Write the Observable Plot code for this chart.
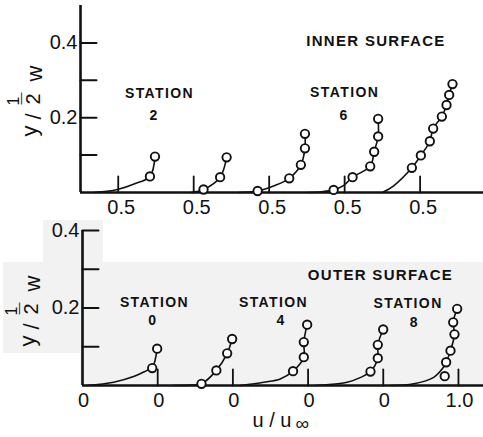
<!DOCTYPE html>
<html><head><meta charset="utf-8">
<script src="https://cdn.jsdelivr.net/npm/d3@7"></script>
<script src="https://cdn.jsdelivr.net/npm/@observablehq/plot@0.6"></script>
<style>
html,body{margin:0;padding:0;background:#fff;}
#wrap{position:relative;width:483px;height:437px;overflow:hidden;}
.scan{position:absolute;background:#f2f2f2;}
#wrap svg{position:relative;display:block;}
</style></head><body>
<div id="wrap">
<div class="scan" style="left:43px;top:220px;width:60px;height:42px"></div>
<div class="scan" style="left:3px;top:262px;width:480px;height:91px"></div>
<div class="scan" style="left:80px;top:353px;width:403px;height:32px"></div>
</div>
<script>
// ---------- data (u/u∞ , y/(w/2)) per profile; profiles are offset by 1 unit each ----------
const innerProfiles = [0, 1, 2, 3, 4];
const innerCurves = [
  [[0.18,0],[0.35,0.003],[0.49,0.008],[0.71,0.023],[0.92,0.043],[0.987,0.096]],
  [[0.47,0],[0.63,0.008],[0.85,0.041],[0.936,0.094]],
  [[0.10,0],[0.347,0.004],[0.567,0.018],[0.766,0.038],[0.92,0.074],[0.974,0.118],[0.974,0.157]],
  [[0.02,0],[0.2,0.002],[0.354,0.007],[0.49,0.019],[0.605,0.041],[0.839,0.070],[0.891,0.109],[0.944,0.150],[0.944,0.197]],
  [[0.0,0],[0.15,0.018],[0.391,0.066],[0.51,0.099],[0.629,0.137],[0.673,0.171],[0.788,0.203],[0.85,0.234],[0.885,0.261],[0.929,0.29]]
];
const innerPoints = [
  [[0.92,0.043],[0.987,0.096]],
  [[0.63,0.008],[0.85,0.041],[0.936,0.094]],
  [[0.347,0.004],[0.766,0.038],[0.92,0.074],[0.974,0.118],[0.974,0.157]],
  [[0.354,0.007],[0.605,0.041],[0.839,0.070],[0.891,0.109],[0.944,0.150],[0.944,0.197]],
  [[0.391,0.066],[0.51,0.099],[0.629,0.137],[0.673,0.171],[0.788,0.203],[0.85,0.234],[0.885,0.261],[0.929,0.29]]
];
const outerProfiles = [0, 1, 2, 3, 4];
const outerCurves = [
  [[0.05,0],[0.416,0.0085],[0.68,0.023],[0.86,0.039],[0.927,0.045],[0.993,0.095]],
  [[0.2,0],[0.42,0.001],[0.582,0.0044],[0.78,0.039],[0.924,0.083],[0.99,0.12]],
  [[0.1,0],[0.41,0.0085],[0.63,0.017],[0.80,0.037],[0.943,0.073],[0.943,0.112],[0.988,0.157]],
  [[0.1,0],[0.52,0.0085],[0.70,0.021],[0.83,0.036],[0.927,0.0705],[0.927,0.105],[0.999,0.1445]],
  [[0.1,0],[0.406,0.0044],[0.67,0.021],[0.80,0.047],[0.836,0.060],[0.894,0.090],[0.947,0.132],[0.93,0.163],[0.983,0.198]]
];
const outerPoints = [
  [[0.927,0.045],[0.993,0.095]],
  [[0.582,0.0044],[0.78,0.039],[0.924,0.083],[0.99,0.12]],
  [[0.80,0.037],[0.943,0.073],[0.943,0.112],[0.988,0.157]],
  [[0.83,0.036],[0.927,0.0705],[0.927,0.105],[0.999,0.1445]],
  [[0.817,0.024],[0.836,0.060],[0.894,0.090],[0.947,0.132],[0.93,0.163],[0.983,0.198]]
];
// ticks
const innerXTicks = [0.5, 1.5, 2.5, 3.5, 4.5];
const innerXTickLabels = ["0.5", "0.5", "0.5", "0.5", "0.5"];
const innerYTicks = [0.1, 0.2, 0.3, 0.4];
const innerYLabelTicks = [0.2, 0.4];
const outerXLabelTicks = [0, 1, 2, 3, 4, 5];
const outerXTickLabels = ["0", "0", "0", "0", "0", "1.0"];
const outerXTicks = [1, 2, 3, 4, 5];
const outerYTicks = [0.1, 0.2, 0.3, 0.4];
const outerYLabelTicks = [0.2, 0.4];
// text
const innerTitle = "INNER SURFACE";
const outerTitle = "OUTER SURFACE";
const stationWord = "STATION";
const innerStations = ["2", "6"];
const outerStations = ["0", "4", "8"];
const yTitleGlyphs = ["y", "/", "1", "2", "w"];
const xTitleParts = ["u / u", "∞"];

// ---------- build tables ----------
const rows = (profiles, sets) => sets.flatMap((pts, i) => pts.map(([u, y]) => ({profile: i, x: profiles[i] + u, y})));
const innerCurveRows = rows(innerProfiles, innerCurves);
const innerPointRows = rows(innerProfiles, innerPoints);
const outerCurveRows = rows(outerProfiles, outerCurves);
const outerPointRows = rows(outerProfiles, outerPoints);

const ink = "#111";
const font = "'Liberation Sans', Arial, sans-serif";
const tickShape = {draw(ctx, l) { ctx.moveTo(0, 0); ctx.lineTo(0, -l); }};

// rotated y title built from glyphs (page-pixel layout relative to frame top-left)
function yTitle(ml, mt, ox, oy) {
  const lay = [
    {t: yTitleGlyphs[0], x: 29, y: 136, s: 22},
    {t: yTitleGlyphs[1], x: 33, y: 119, s: 22},
    {t: yTitleGlyphs[2], x: 13, y: 105, s: 16},
    {t: "—",            x: 21, y: 104, s: 12},
    {t: yTitleGlyphs[3], x: 33, y: 104, s: 20},
    {t: yTitleGlyphs[4], x: 34, y: 81,  s: 22}
  ];
  return lay.map(g => Plot.text([g.t], {frameAnchor: "top-left", rotate: -90, lineAnchor: "middle",
    dx: g.x + ox - ml, dy: g.y + oy - mt, fontSize: g.s, fill: ink}));
}

const baseStyle = {background: "transparent", fontFamily: font, color: ink, overflow: "visible"};

// ---------- top panel: inner surface ----------
const topPlot = Plot.plot({
  width: 483, height: 215,
  marginLeft: 80, marginRight: 0, marginTop: 5, marginBottom: 23,
  style: baseStyle,
  x: {domain: [0, 5.34]},
  y: {domain: [0, 0.5]},
  marks: [
    Plot.ruleX([0], {stroke: ink, strokeWidth: 2.6}),
    Plot.ruleY([0], {stroke: ink, strokeWidth: 2.6}),
    Plot.vector(innerYTicks, {x: () => 0, y: d => d, length: 16, rotate: 90, anchor: "start", shape: tickShape, stroke: ink, strokeWidth: 2}),
    Plot.vector(innerXTicks, {x: d => d, y: () => 0, length: 16, rotate: 0, anchor: "start", shape: tickShape, stroke: ink, strokeWidth: 1.8}),
    Plot.axisY({ticks: innerYLabelTicks, tickSize: 0, tickPadding: 3, fontSize: 20, tickFormat: d => d.toFixed(1), label: null}),
    Plot.axisX({ticks: innerXTicks, tickSize: 0, tickPadding: 7, fontSize: 20, dx: 3, tickFormat: d => innerXTickLabels[innerXTicks.indexOf(d)], label: null}),
    Plot.line(innerCurveRows, {x: "x", y: "y", z: "profile", curve: "catmull-rom", stroke: ink, strokeWidth: 1.6}),
    Plot.dot(innerPointRows, {x: "x", y: "y", r: 4.2, fill: "white", stroke: ink, strokeWidth: 1.9}),
    Plot.text([innerTitle], {x: () => 3.915, y: () => 0.404, fontSize: 15, fontWeight: "bold", fill: ink}),
    Plot.text([stationWord, stationWord], {x: [1.047, 3.50], y: [0.265, 0.267], fontSize: 14, fontWeight: "bold", fill: ink}),
    Plot.text(innerStations, {x: [0.967, 3.485], y: [0.206, 0.206], fontSize: 14, fontWeight: "bold", fill: ink}),
    ...yTitle(80, 5, 0, 0)
  ]
});

// ---------- bottom panel: outer surface ----------
const botPlot = Plot.plot({
  width: 483, height: 222,
  marginLeft: 82, marginRight: 0, marginTop: 15, marginBottom: 52,
  style: baseStyle,
  x: {domain: [0, 5.333]},
  y: {domain: [0, 0.4]},
  marks: [
    Plot.ruleX([0], {stroke: ink, strokeWidth: 2.6}),
    Plot.ruleY([0], {stroke: ink, strokeWidth: 2.6}),
    Plot.vector(outerYTicks, {x: () => 0, y: d => d, length: 16, rotate: 90, anchor: "start", shape: tickShape, stroke: ink, strokeWidth: 2}),
    Plot.vector(outerXTicks, {x: d => d, y: () => 0, length: 16, rotate: 0, anchor: "start", shape: tickShape, stroke: ink, strokeWidth: 1.8}),
    Plot.axisY({ticks: outerYLabelTicks, tickSize: 0, tickPadding: 3, fontSize: 20, tickFormat: d => d.toFixed(1), label: null}),
    Plot.axisX({ticks: outerXLabelTicks, tickSize: 0, tickPadding: 7, fontSize: 20, dx: 1, tickFormat: d => outerXTickLabels[outerXLabelTicks.indexOf(d)], label: null}),
    Plot.line(outerCurveRows, {x: "x", y: "y", z: "profile", curve: "catmull-rom", stroke: ink, strokeWidth: 1.6}),
    Plot.dot(outerPointRows, {x: "x", y: "y", r: 4.2, fill: "white", stroke: ink, strokeWidth: 1.9}),
    Plot.text([outerTitle], {x: () => 3.963, y: () => 0.284, fontSize: 15, fontWeight: "bold", fill: ink}),
    Plot.text([stationWord, stationWord, stationWord], {x: [0.957, 2.54, 4.33], y: [0.213, 0.214, 0.212], fontSize: 14, fontWeight: "bold", fill: ink}),
    Plot.text(outerStations, {x: [0.927, 2.633, 4.405], y: [0.168, 0.168, 0.163], fontSize: 14, fontWeight: "bold", fill: ink}),
    ...yTitle(82, 15, -2, -5),
    Plot.text([xTitleParts[0]], {frameAnchor: "top-left", textAnchor: "start", lineAnchor: "middle", dx: 170, dy: 190, fontSize: 20, fill: ink}),
    Plot.text([xTitleParts[1]], {frameAnchor: "top-left", textAnchor: "start", lineAnchor: "middle", dx: 213, dy: 193, fontSize: 19, fill: ink})
  ]
});

const wrap = document.getElementById("wrap");
wrap.appendChild(topPlot);
wrap.appendChild(botPlot);
for (const svg of [topPlot, botPlot]) {
  d3.select(svg).selectAll("text").each(function () {
    const t = this.textContent;
    if (t === stationWord) this.setAttribute("letter-spacing", "1.4");
    if (t === innerTitle || t === outerTitle) this.setAttribute("letter-spacing", "1.3");
  });
}
</script>
</body></html>
